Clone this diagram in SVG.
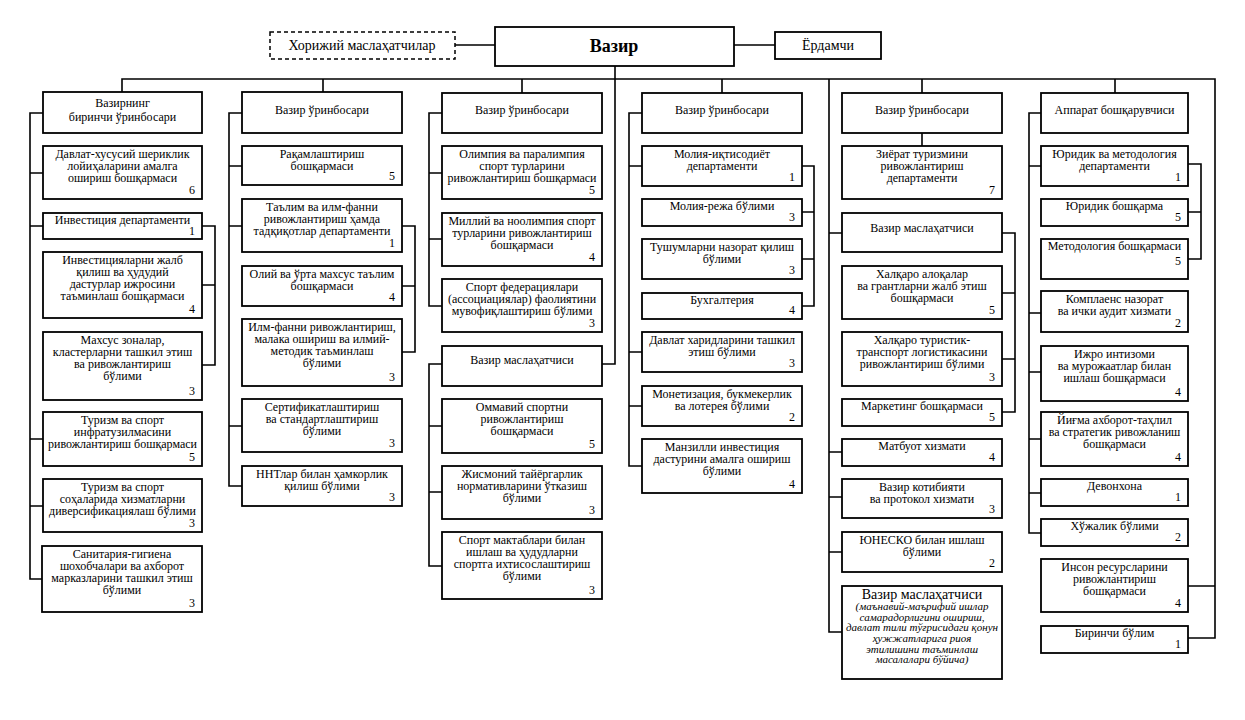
<svg xmlns="http://www.w3.org/2000/svg" width="1245" height="720" viewBox="0 0 1245 720">
<style>
.b{fill:#fff;stroke:#000;stroke-width:1.8}
.d{fill:#fff;stroke:#000;stroke-width:1.5;stroke-dasharray:4 3}
text{font-family:"Liberation Serif","Times New Roman",serif;font-size:12px;fill:#000;text-anchor:middle}
.n{text-anchor:end}
.big{font-size:18px;font-weight:bold}
.m{font-size:14px}
.i{font-size:11px;font-style:italic}
.c path{fill:none;stroke:#000;stroke-width:1.6}
</style>
<rect width="1245" height="720" fill="#fff"/>
<g class="c" id="connectors">
<path d="M455 45H495M734 45H775"/>
<path d="M122 92V79H1215V638H1188M1215 586H1188"/>
<path d="M323 79V92M522 79V93M722 79V93M922 79V93M922 133V146M1115 79V93"/>
<path d="M615 66V364H602"/>
<path d="M43 113H30V579H43M30 173H43M30 226H43M30 439H43M30 506H43"/>
<path d="M202 226H215V365H202M202 285H215"/>
<path d="M242 113H229V486H242M229 166H242M229 226H242M229 426H242"/>
<path d="M402 226H415V352H402M402 286H415"/>
<path d="M442 113H429V306H442M429 173H442M429 239H442"/>
<path d="M442 364H429V566H442M429 426H442M429 492H442"/>
<path d="M642 113H629V466H642M629 166H642M629 352H642M629 406H642"/>
<path d="M802 166H814V306H802M802 212H814M802 259H814"/>
<path d="M829 79V632H842M829 233H842M829 452H842M829 497H842M829 552H842"/>
<path d="M1002 233H1015V412H1002M1002 293H1015M1002 359H1015"/>
<path d="M1041 113H1029V533H1041M1029 166H1041M1029 313H1041M1029 372H1041M1029 439H1041M1029 493H1041"/>
<path d="M1188 164H1201V259H1188M1188 212H1201"/>
</g>
<g id="top">
<g id="vazir"><rect class="b" x="495" y="27" width="239" height="39"/><text class="big" x="614" y="52">Вазир</text></g>
<g id="xorijiy"><rect class="d" x="270" y="32" width="185" height="27"/><text class="m" x="362" y="50">Хорижий маслаҳатчилар</text></g>
<g id="yordamchi"><rect class="b" x="775" y="32" width="106" height="27"/><text class="m" x="828" y="50">Ёрдамчи</text></g>
</g>
<g id="col1">
<g id="c1h"><rect class="b" x="43" y="92" width="159" height="41"/><text x="122.5" y="107">Вазирнинг</text><text x="122.5" y="121">биринчи ўринбосари</text></g>
<g id="c1a"><rect class="b" x="43" y="146" width="159" height="53"/><text x="122.5" y="158">Давлат-хусусий шериклик</text><text x="122.5" y="170">лойиҳаларини амалга</text><text x="122.5" y="182">ошириш бошқармаси</text><text class="n" x="195" y="194">6</text></g>
<g id="c1b"><rect class="b" x="43" y="213" width="159" height="26"/><text x="122.5" y="224">Инвестиция департаменти</text><text class="n" x="195" y="235">1</text></g>
<g id="c1c"><rect class="b" x="43" y="252" width="159" height="66"/><text x="122.5" y="264">Инвестицияларни жалб</text><text x="122.5" y="276">қилиш ва ҳудудий</text><text x="122.5" y="288">дастурлар ижросини</text><text x="122.5" y="300">таъминлаш бошқармаси</text><text class="n" x="195" y="313">4</text></g>
<g id="c1d"><rect class="b" x="43" y="332" width="159" height="68"/><text x="122.5" y="344">Махсус зоналар,</text><text x="122.5" y="356">кластерларни ташкил этиш</text><text x="122.5" y="368">ва ривожлантириш</text><text x="122.5" y="380">бўлими</text><text class="n" x="195" y="395">3</text></g>
<g id="c1e"><rect class="b" x="43" y="412" width="159" height="54"/><text x="122.5" y="424">Туризм ва спорт</text><text x="122.5" y="436">инфратузилмасини</text><text x="122.5" y="448">ривожлантириш бошқармаси</text><text class="n" x="195" y="461">5</text></g>
<g id="c1f"><rect class="b" x="43" y="479" width="159" height="53"/><text x="122.5" y="491">Туризм ва спорт</text><text x="122.5" y="503">соҳаларида хизматларни</text><text x="122.5" y="515">диверсификациялаш бўлими</text><text class="n" x="195" y="527">3</text></g>
<g id="c1g"><rect class="b" x="42" y="546" width="160" height="66"/><text x="122" y="558">Санитария-гигиена</text><text x="122" y="570">шохобчалари ва ахборот</text><text x="122" y="582">марказларини ташкил этиш</text><text x="122" y="594">бўлими</text><text class="n" x="195" y="607">3</text></g>
</g>
<g id="col2">
<g id="c2h"><rect class="b" x="242" y="92" width="160" height="41"/><text x="322" y="114">Вазир ўринбосари</text></g>
<g id="c2a"><rect class="b" x="242" y="146" width="160" height="39"/><text x="322" y="158">Рақамлаштириш</text><text x="322" y="170">бошқармаси</text><text class="n" x="395" y="180">5</text></g>
<g id="c2b"><rect class="b" x="242" y="199" width="160" height="53"/><text x="322" y="211">Таълим ва илм-фанни</text><text x="322" y="223">ривожлантириш ҳамда</text><text x="322" y="235">тадқиқотлар департаменти</text><text class="n" x="395" y="247">1</text></g>
<g id="c2c"><rect class="b" x="242" y="266" width="160" height="40"/><text x="322" y="278">Олий ва ўрта махсус таълим</text><text x="322" y="290">бошқармаси</text><text class="n" x="395" y="301">4</text></g>
<g id="c2d"><rect class="b" x="242" y="319" width="160" height="67"/><text x="322" y="331">Илм-фанни ривожлантириш,</text><text x="322" y="343">малака ошириш ва илмий-</text><text x="322" y="355">методик таъминлаш</text><text x="322" y="367">бўлими</text><text class="n" x="395" y="381">3</text></g>
<g id="c2e"><rect class="b" x="242" y="399" width="160" height="53"/><text x="322" y="411">Сертификатлаштириш</text><text x="322" y="423">ва стандартлаштириш</text><text x="322" y="435">бўлими</text><text class="n" x="395" y="447">3</text></g>
<g id="c2f"><rect class="b" x="242" y="466" width="160" height="40"/><text x="322" y="478">ННТлар билан ҳамкорлик</text><text x="322" y="490">қилиш бўлими</text><text class="n" x="395" y="501">3</text></g>
</g>
<g id="col3">
<g id="c3h"><rect class="b" x="442" y="93" width="160" height="40"/><text x="522" y="114">Вазир ўринбосари</text></g>
<g id="c3a"><rect class="b" x="442" y="146" width="160" height="53"/><text x="522" y="158">Олимпия ва паралимпия</text><text x="522" y="170">спорт турларини</text><text x="522" y="182">ривожлантириш бошқармаси</text><text class="n" x="595" y="194">5</text></g>
<g id="c3b"><rect class="b" x="442" y="213" width="160" height="53"/><text x="522" y="225">Миллий ва ноолимпия спорт</text><text x="522" y="237">турларини ривожлантириш</text><text x="522" y="249">бошқармаси</text><text class="n" x="595" y="261">4</text></g>
<g id="c3c"><rect class="b" x="442" y="279" width="160" height="53"/><text x="522" y="291">Спорт федерациялари</text><text x="522" y="303">(ассоциациялар) фаолиятини</text><text x="522" y="315">мувофиқлаштириш бўлими</text><text class="n" x="595" y="327">3</text></g>
<g id="c3m"><rect class="b" x="442" y="346" width="160" height="40"/><text x="522" y="364">Вазир маслаҳатчиси</text></g>
<g id="c3d"><rect class="b" x="442" y="399" width="160" height="54"/><text x="522" y="411">Оммавий спортни</text><text x="522" y="423">ривожлантириш</text><text x="522" y="435">бошқармаси</text><text class="n" x="595" y="448">5</text></g>
<g id="c3e"><rect class="b" x="442" y="466" width="160" height="53"/><text x="522" y="478">Жисмоний тайёргарлик</text><text x="522" y="490">нормативларини ўтказиш</text><text x="522" y="502">бўлими</text><text class="n" x="595" y="514">3</text></g>
<g id="c3f"><rect class="b" x="442" y="532" width="160" height="67"/><text x="522" y="544">Спорт мактаблари билан</text><text x="522" y="556">ишлаш ва ҳудудларни</text><text x="522" y="568">спортга ихтисослаштириш</text><text x="522" y="580">бўлими</text><text class="n" x="595" y="594">3</text></g>
</g>
<g id="col4">
<g id="c4h"><rect class="b" x="642" y="93" width="160" height="40"/><text x="722" y="114">Вазир ўринбосари</text></g>
<g id="c4a"><rect class="b" x="642" y="146" width="160" height="40"/><text x="722" y="158">Молия-иқтисодиёт</text><text x="722" y="170">департаменти</text><text class="n" x="795" y="181">1</text></g>
<g id="c4b"><rect class="b" x="642" y="199" width="160" height="27"/><text x="722" y="210">Молия-режа бўлими</text><text class="n" x="795" y="221">3</text></g>
<g id="c4c"><rect class="b" x="642" y="239" width="160" height="40"/><text x="722" y="251">Тушумларни назорат қилиш</text><text x="722" y="263">бўлими</text><text class="n" x="795" y="274">3</text></g>
<g id="c4d"><rect class="b" x="642" y="293" width="160" height="26"/><text x="722" y="304">Бухгалтерия</text><text class="n" x="795" y="314">4</text></g>
<g id="c4e"><rect class="b" x="642" y="332" width="160" height="40"/><text x="722" y="344">Давлат харидларини ташкил</text><text x="722" y="356">этиш бўлими</text><text class="n" x="795" y="367">3</text></g>
<g id="c4f"><rect class="b" x="642" y="386" width="160" height="40"/><text x="722" y="398">Монетизация, букмекерлик</text><text x="722" y="410">ва лотерея бўлими</text><text class="n" x="795" y="421">2</text></g>
<g id="c4g"><rect class="b" x="642" y="439" width="160" height="54"/><text x="722" y="451">Манзилли инвестиция</text><text x="722" y="463">дастурини амалга ошириш</text><text x="722" y="475">бўлими</text><text class="n" x="795" y="488">4</text></g>
</g>
<g id="col5">
<g id="c5h"><rect class="b" x="842" y="93" width="160" height="40"/><text x="922" y="114">Вазир ўринбосари</text></g>
<g id="c5a"><rect class="b" x="842" y="146" width="160" height="53"/><text x="922" y="158">Зиёрат туризмини</text><text x="922" y="170">ривожлантириш</text><text x="922" y="182">департаменти</text><text class="n" x="995" y="194">7</text></g>
<g id="c5m"><rect class="b" x="842" y="213" width="160" height="39"/><text x="922" y="232">Вазир маслаҳатчиси</text></g>
<g id="c5b"><rect class="b" x="842" y="266" width="160" height="53"/><text x="922" y="278">Халқаро алоқалар</text><text x="922" y="290">ва грантларни жалб этиш</text><text x="922" y="302">бошқармаси</text><text class="n" x="995" y="314">5</text></g>
<g id="c5c"><rect class="b" x="842" y="332" width="160" height="54"/><text x="922" y="344">Халқаро туристик-</text><text x="922" y="356">транспорт логистикасини</text><text x="922" y="368">ривожлантириш бўлими</text><text class="n" x="995" y="381">3</text></g>
<g id="c5d"><rect class="b" x="842" y="399" width="160" height="27"/><text x="922" y="410">Маркетинг бошқармаси</text><text class="n" x="995" y="421">5</text></g>
<g id="c5e"><rect class="b" x="842" y="439" width="160" height="27"/><text x="922" y="450">Матбуот хизмати</text><text class="n" x="995" y="461">4</text></g>
<g id="c5f"><rect class="b" x="842" y="479" width="160" height="39"/><text x="922" y="491">Вазир котибияти</text><text x="922" y="503">ва протокол хизмати</text><text class="n" x="995" y="513">3</text></g>
<g id="c5g"><rect class="b" x="842" y="532" width="160" height="40"/><text x="922" y="544">ЮНЕСКО билан ишлаш</text><text x="922" y="556">бўлими</text><text class="n" x="995" y="567">2</text></g>
<g id="c5k"><rect class="b" x="842" y="586" width="160" height="93"/><text class="m" x="922" y="599">Вазир маслаҳатчиси</text><text class="i" x="922" y="610">(маънавий-маърифий ишлар</text><text class="i" x="922" y="621">самарадорлигини ошириш,</text><text class="i" x="922" y="631">давлат тили тўғрисидаги қонун</text><text class="i" x="922" y="642">ҳужжатларига риоя</text><text class="i" x="922" y="653">этилишини таъминлаш</text><text class="i" x="922" y="663">масалалари бўйича)</text></g>
</g>
<g id="col6">
<g id="c6h"><rect class="b" x="1041" y="93" width="147" height="40"/><text x="1114.5" y="114">Аппарат бошқарувчиси</text></g>
<g id="c6a"><rect class="b" x="1041" y="146" width="147" height="40"/><text x="1114.5" y="158">Юридик ва методология</text><text x="1114.5" y="170">департаменти</text><text class="n" x="1181" y="181">1</text></g>
<g id="c6b"><rect class="b" x="1041" y="199" width="147" height="27"/><text x="1114.5" y="210">Юридик бошқарма</text><text class="n" x="1181" y="221">5</text></g>
<g id="c6c"><rect class="b" x="1041" y="239" width="147" height="40"/><text x="1114.5" y="250">Методология бошқармаси</text><text class="n" x="1181" y="265">5</text></g>
<g id="c6d"><rect class="b" x="1041" y="291" width="147" height="41"/><text x="1114.5" y="303">Комплаенс назорат</text><text x="1114.5" y="315">ва ички аудит хизмати</text><text class="n" x="1181" y="327">2</text></g>
<g id="c6e"><rect class="b" x="1041" y="346" width="147" height="55"/><text x="1114.5" y="358">Ижро интизоми</text><text x="1114.5" y="370">ва мурожаатлар билан</text><text x="1114.5" y="382">ишлаш бошқармаси</text><text class="n" x="1181" y="396">4</text></g>
<g id="c6f"><rect class="b" x="1041" y="412" width="147" height="54"/><text x="1114.5" y="424">Йиғма ахборот-таҳлил</text><text x="1114.5" y="436">ва стратегик ривожланиш</text><text x="1114.5" y="448">бошқармаси</text><text class="n" x="1181" y="461">4</text></g>
<g id="c6g"><rect class="b" x="1041" y="479" width="147" height="27"/><text x="1114.5" y="490">Девонхона</text><text class="n" x="1181" y="501">1</text></g>
<g id="c6i"><rect class="b" x="1041" y="519" width="147" height="27"/><text x="1114.5" y="530">Хўжалик бўлими</text><text class="n" x="1181" y="541">2</text></g>
<g id="c6j"><rect class="b" x="1041" y="559" width="147" height="53"/><text x="1114.5" y="571">Инсон ресурсларини</text><text x="1114.5" y="583">ривожлантириш</text><text x="1114.5" y="595">бошқармаси</text><text class="n" x="1181" y="607">4</text></g>
<g id="c6k"><rect class="b" x="1041" y="626" width="147" height="27"/><text x="1114.5" y="637">Биринчи бўлим</text><text class="n" x="1181" y="648">1</text></g>
</g>
</svg>
